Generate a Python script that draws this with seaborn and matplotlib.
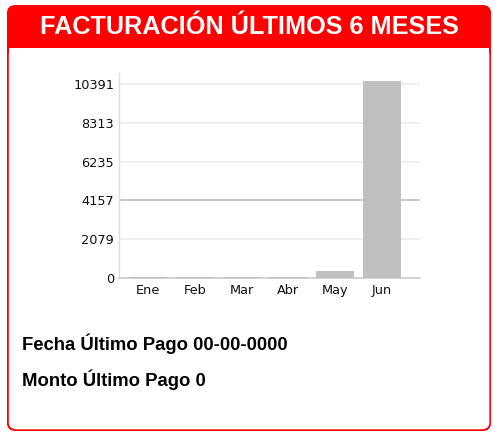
import matplotlib
matplotlib.use("Agg")
import matplotlib.pyplot as plt
from matplotlib.patches import FancyBboxPatch, Rectangle
import seaborn as sns
import pandas as pd

# ---- data ----
months = ["Ene", "Feb", "Mar", "Abr", "May", "Jun"]
amounts = [60, 60, 60, 60, 390, 10550]
tick_values = [0, 2079, 4157, 6235, 8313, 10391]
title = "FACTURACIÓN ÚLTIMOS 6 MESES"
line1 = "Fecha Último Pago 00-00-0000"
line2 = "Monto Último Pago 0"

W, H = 493, 433
sns.set_theme(style="white")
plt.rcParams['font.family'] = ['DejaVu Sans']

fig = plt.figure(figsize=(W / 100, H / 100), dpi=100)
fig.patch.set_facecolor("white")

def fx(x):
    return x / W

def fy(y):
    return 1 - y / H

RED = "#fe0000"
# card: red outer, white inner
outer = FancyBboxPatch((fx(7), fy(431)), fx(491) - fx(7), fy(5) - fy(431),
                       boxstyle="round,pad=0,rounding_size=0.018",
                       transform=fig.transFigure, facecolor=RED, edgecolor="none",
                       zorder=0)
fig.add_artist(outer)
inner = FancyBboxPatch((fx(8.8), fy(429.3)), fx(489.4) - fx(8.8), fy(48) - fy(429.3),
                       boxstyle="round,pad=0,rounding_size=0.016",
                       transform=fig.transFigure, facecolor="white", edgecolor="none",
                       zorder=0.1)
fig.add_artist(inner)
sq = Rectangle((fx(8.8), fy(70)), fx(489.4) - fx(8.8), fy(48) - fy(70),
               transform=fig.transFigure, facecolor="white", edgecolor="none", zorder=0.2)
fig.add_artist(sq)

fig.text(fx(249), fy(27), title, color="white", fontsize=18.2, fontweight="bold",
         family="Liberation Sans", ha="center", va="center", zorder=6)
fig.text(fx(22), fy(344), line1, color="black", fontsize=13.3, fontweight="bold",
         family="Liberation Sans", ha="left", va="center", zorder=6)
fig.text(fx(22), fy(380), line2, color="black", fontsize=13.3, fontweight="bold",
         family="Liberation Sans", ha="left", va="center", zorder=6)

# ---- chart ----
ax = fig.add_axes([fx(119), fy(278), fx(420) - fx(119), fy(73) - fy(278)])
ax.set_zorder(5)
ax.set_facecolor("none")
df = pd.DataFrame({"mes": months, "monto": amounts})
sns.barplot(data=df, x="mes", y="monto", color="#c0c0c0", saturation=1,
            width=0.81, ax=ax, zorder=3, linewidth=0, edgecolor="none")
ax.set_xlim(-0.62, 5.82)
ax.set_ylim(0, 10980)
ax.set_yticks(tick_values)
ax.set_yticklabels([str(v) for v in tick_values])
for v in tick_values[1:]:
    ax.axhline(v, color="#bdbdbd" if v == 4157 else "#ececec", lw=1.2, zorder=1)
ax.set_xlabel("")
ax.set_ylabel("")
for s in ["top", "right"]:
    ax.spines[s].set_visible(False)
ax.spines["left"].set_color("#dddddd")
ax.spines["left"].set_linewidth(1)
ax.spines["bottom"].set_color("#cccccc")
ax.spines["bottom"].set_linewidth(1.2)
ax.tick_params(axis="both", length=0, labelsize=9.3, colors="#111111")
ax.tick_params(axis="y", pad=3.5)
ax.tick_params(axis="x", pad=4)

fig.savefig("out.png", dpi=100)
